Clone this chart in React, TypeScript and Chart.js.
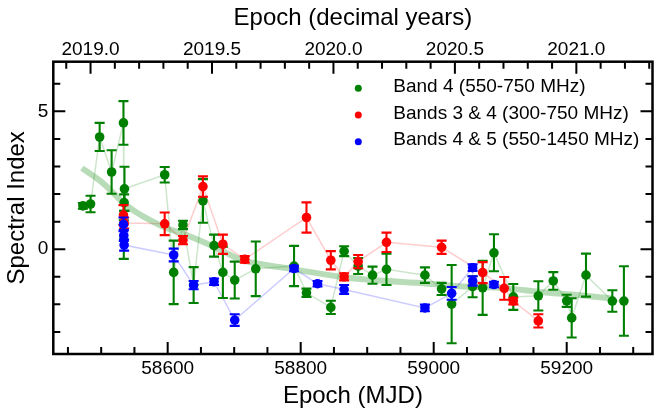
import { useEffect, useRef } from 'react';
import { Chart, registerables } from 'chart.js';

Chart.register(...registerables);

const FONT = "'Liberation Sans', Arial, sans-serif";

// Band 4 (550-750 MHz)
const band4Mjd = [
  58472.5, 58484, 58497.7, 58515.7, 58533.5, 58534, 58534.5, 58535, 58595.5, 58609,
  58623, 58639, 58653, 58669.7, 58683, 58700.8, 58732.4, 58790, 58808.7, 58845.3,
  58865.3, 58886.4, 58908, 58929, 58986.8, 59011.9, 59027, 59058.5, 59073.6, 59090.6,
  59119.7, 59157.3, 59179.8, 59200, 59207.5, 59229, 59268.6, 59286,
];
const band4Index = [
  1.57, 1.64, 4.07, 2.8, 4.58, 0.35, 1.69, 2.19, 2.7, -0.84,
  0.88, -1.3, 1.75, 0.13, -0.84, -1.12, -0.71, -0.61, -1.58, -2.11,
  -0.07, -0.61, -0.94, -0.73, -0.94, -1.44, -1.99, -1.36, -1.4, -0.13,
  -1.73, -1.69, -1.15, -1.87, -2.49, -0.94, -1.88, -1.88,
];
const band4Err = [
  0.1, 0.3, 0.51, 0.79, 0.79, 0.7, 0.3, 0.8, 0.28, 1.15,
  0.15, 0.65, 0.79, 0.4, 0.93, 0.67, 0.99, 0.73, 0.15, 0.24,
  0.18, 0.29, 0.31, 0.57, 0.28, 0.22, 1.42, 0.38, 0.98, 0.67,
  0.47, 0.53, 0.32, 0.22, 0.71, 0.78, 0.39, 1.26,
];

// Bands 3 & 4 (300-750 MHz)
const band34Mjd = [
  58533.5, 58534.5, 58595.5, 58623, 58653, 58683, 58715.9, 58808.7, 58845.3,
  58865.3, 58886.4, 58929, 59011.9, 59073.6, 59106, 59119.7, 59157.3,
];
const band34Index = [
  1.24, 0.95, 0.92, 0.33, 2.27, 0.18, -0.37, 1.15, -0.4,
  -1.0, -0.45, 0.25, 0.07, -0.85, -1.42, -1.88, -2.6,
];
const band34Err = [
  0.36, 0.2, 0.41, 0.15, 0.37, 0.35, 0.12, 0.55, 0.33,
  0.13, 0.24, 0.35, 0.24, 0.38, 0.41, 0.12, 0.24,
];

// Bands 4 & 5 (550-1450 MHz)
const band45Mjd = [
  58533.5, 58534, 58534.5, 58609, 58639, 58669.7, 58700.8, 58790, 58825.3,
  58865.3, 58986.8, 59027, 59058.5, 59058.6, 59090.6,
];
const band45Index = [
  0.9, 0.5, 0.15, -0.21, -1.3, -1.18, -2.57, -0.7, -1.25,
  -1.46, -2.13, -1.6, -0.67, -1.15, -1.28,
];
const band45Err = [
  0.25, 0.2, 0.2, 0.23, 0.15, 0.12, 0.21, 0.1, 0.1,
  0.16, 0.12, 0.23, 0.12, 0.17, 0.1,
];

// smooth trend (thick pale green curve)
const trendMjd = [
  58471, 58500, 58540, 58590, 58630, 58670, 58711, 58750, 58790,
  58859, 58909, 58987, 59039, 59109, 59159, 59220, 59270,
];
const trendIndex = [
  2.94, 2.45, 1.55, 0.85, 0.5, 0.09, -0.39, -0.58, -0.73,
  -1.0, -1.12, -1.24, -1.34, -1.42, -1.55, -1.67, -1.79,
];

const seriesLabels = ['Band 4 (550-750 MHz)', 'Bands 3 & 4 (300-750 MHz)', 'Bands 4 & 5 (550-1450 MHz)'];
const seriesColors = ['#008000', '#ff0000', '#0000ff'];
const lineColors = ['rgba(0,128,0,0.2)', 'rgba(255,0,0,0.2)', 'rgba(0,0,255,0.2)'];

const mjdTicks = [58600, 58800, 59000, 59200];
const yearTicks = [2019.0, 2019.5, 2020.0, 2020.5, 2021.0];
const indexTicks = [0, 5];

const MJD_MIN = 58428;
const MJD_MAX = 59329;
const Y_MIN = -3.8;
const Y_MAX = 6.8;
const toYear = (mjd: number) => 2019 + (mjd - 58484) / 365.25;

const pts = (xs: number[], ys: number[]) => xs.map((x, i) => ({ x, y: ys[i] }));

const decorPlugin = {
  id: 'decor',
  beforeDatasetDraw(chart: any, args: any) {
    const ds = chart.data.datasets[args.index];
    if (!ds.errors) return;
    const { ctx, chartArea, scales } = chart;
    ctx.save();
    ctx.beginPath();
    ctx.rect(chartArea.left, chartArea.top, chartArea.width, chartArea.height);
    ctx.clip();
    ctx.strokeStyle = ds.errorColor;
    ctx.lineWidth = 2.1;
    const cap = 5;
    ds.data.forEach((p: any, i: number) => {
      const x = scales.x.getPixelForValue(p.x);
      const lo = scales.y.getPixelForValue(p.y - ds.errors[i]);
      const hi = scales.y.getPixelForValue(p.y + ds.errors[i]);
      ctx.beginPath();
      ctx.moveTo(x, lo);
      ctx.lineTo(x, hi);
      ctx.moveTo(x - cap, lo);
      ctx.lineTo(x + cap, lo);
      ctx.moveTo(x - cap, hi);
      ctx.lineTo(x + cap, hi);
      ctx.stroke();
    });
    ctx.restore();
  },
  afterDraw(chart: any) {
    const { ctx, chartArea: a, scales } = chart;
    ctx.save();
    ctx.strokeStyle = '#000';
    ctx.lineWidth = 2.5;
    ctx.strokeRect(a.left, a.top, a.right - a.left, a.bottom - a.top);

    const MAJ = 12;
    const MIN = 7;
    ctx.lineWidth = 2;
    ctx.beginPath();
    // bottom: MJD
    for (let v = 58450; v <= MJD_MAX; v += 50) {
      const x = scales.x.getPixelForValue(v);
      const len = v % 200 === 0 ? MAJ : MIN;
      ctx.moveTo(x, a.bottom);
      ctx.lineTo(x, a.bottom - len);
    }
    // top: decimal year
    for (let k = 188; k <= 213; k++) {
      const yr = k / 10 + 2000;
      const px = scales.x2.getPixelForValue(yr);
      if (px < a.left || px > a.right) continue;
      const len = k % 5 === 0 ? MAJ : MIN;
      ctx.moveTo(px, a.top);
      ctx.lineTo(px, a.top + len);
    }
    // left & right: spectral index
    for (let v = -3; v <= 6; v++) {
      const y = scales.y.getPixelForValue(v);
      const len = v % 5 === 0 ? MAJ : MIN;
      ctx.moveTo(a.left, y);
      ctx.lineTo(a.left + len, y);
      ctx.moveTo(a.right, y);
      ctx.lineTo(a.right - len, y);
    }
    ctx.stroke();

    // legend
    ctx.font = `19px ${FONT}`;
    ctx.textBaseline = 'middle';
    ctx.textAlign = 'left';
    seriesLabels.forEach((label, i) => {
      const y = a.top + 26.6 + i * 26.7;
      ctx.fillStyle = seriesColors[i];
      ctx.beginPath();
      ctx.arc(a.left + 305, y, 3.5, 0, Math.PI * 2);
      ctx.fill();
      ctx.fillStyle = '#000';
      ctx.fillText(label, a.left + 340, y - 1.5);
    });
    ctx.restore();
  },
};

export default function App() {
  const canvasRef = useRef<HTMLCanvasElement>(null);
  const chartRef = useRef<Chart | null>(null);

  useEffect(() => {
    document.body.style.margin = '0';
    if (!canvasRef.current) return;
    if (chartRef.current) chartRef.current.destroy();

    const tickFont = { family: FONT, size: 19 };
    const titleFont = { family: FONT, size: 24 };

    const lineSet = (xs: number[], ys: number[], color: string, order: number) => ({
      data: pts(xs, ys),
      showLine: true,
      borderColor: color,
      borderWidth: 1.5,
      pointRadius: 0,
      order,
    });
    const markerSet = (xs: number[], ys: number[], errs: number[], color: string, order: number) => ({
      data: pts(xs, ys),
      showLine: false,
      pointRadius: 4.8,
      pointBackgroundColor: color,
      pointBorderWidth: 0,
      errors: errs,
      errorColor: color,
      order,
    });

    chartRef.current = new Chart(canvasRef.current, {
      type: 'scatter',
      data: {
        datasets: [
          lineSet(band4Mjd, band4Index, lineColors[0], 9),
          lineSet(band34Mjd, band34Index, lineColors[1], 8),
          lineSet(band45Mjd, band45Index, lineColors[2], 7),
          {
            data: pts(trendMjd, trendIndex),
            showLine: true,
            borderColor: 'rgba(0,128,0,0.28)',
            borderWidth: 6,
            pointRadius: 0,
            cubicInterpolationMode: 'monotone',
            order: 6,
          },
          markerSet(band4Mjd, band4Index, band4Err, seriesColors[0], 3),
          markerSet(band34Mjd, band34Index, band34Err, seriesColors[1], 2),
          markerSet(band45Mjd, band45Index, band45Err, seriesColors[2], 1),
        ] as any,
      },
      options: {
        animation: false,
        responsive: true,
        maintainAspectRatio: false,
        events: [],
        layout: { padding: { left: 0, right: 11.5, top: 0, bottom: 0 } },
        plugins: { legend: { display: false }, tooltip: { enabled: false } },
        scales: {
          x: {
            type: 'linear',
            position: 'bottom',
            min: MJD_MIN,
            max: MJD_MAX,
            afterBuildTicks: (s: any) => {
              s.ticks = mjdTicks.map((value) => ({ value }));
            },
            afterFit: (s: any) => {
              s.height = 61;
            },
            grid: { display: false, drawTicks: false },
            border: { display: false },
            ticks: {
              font: tickFont,
              color: '#000',
              padding: 3,
              maxRotation: 0,
              autoSkip: false,
              callback: (v: any) => String(v),
            },
            title: {
              display: true,
              text: 'Epoch (MJD)',
              font: titleFont,
              color: '#000',
              padding: { top: 0, bottom: 4.4 },
            },
          },
          x2: {
            type: 'linear',
            position: 'top',
            min: toYear(MJD_MIN),
            max: toYear(MJD_MAX),
            afterBuildTicks: (s: any) => {
              s.ticks = yearTicks.map((value) => ({ value }));
            },
            afterFit: (s: any) => {
              s.height = 61.7;
            },
            grid: { display: false, drawTicks: false },
            border: { display: false },
            ticks: {
              font: tickFont,
              color: '#000',
              padding: 1,
              maxRotation: 0,
              autoSkip: false,
              callback: (v: any) => Number(v).toFixed(1),
            },
            title: {
              display: true,
              text: 'Epoch (decimal years)',
              font: titleFont,
              color: '#000',
              padding: { top: 3.6, bottom: 0 },
            },
          },
          y: {
            type: 'linear',
            position: 'left',
            min: Y_MIN,
            max: Y_MAX,
            afterBuildTicks: (s: any) => {
              s.ticks = indexTicks.map((value) => ({ value }));
            },
            afterFit: (s: any) => {
              s.width = 53.3;
            },
            grid: { display: false, drawTicks: false },
            border: { display: false },
            ticks: { font: tickFont, color: '#000', padding: 5 },
            title: {
              display: true,
              text: 'Spectral Index',
              font: titleFont,
              color: '#000',
              padding: { top: 3, bottom: 0 },
            },
          },
        },
      } as any,
      plugins: [decorPlugin],
    });

    return () => {
      chartRef.current?.destroy();
      chartRef.current = null;
    };
  }, []);

  return (
    <div style={{ position: 'relative', width: 664, height: 415 }}>
      <canvas ref={canvasRef} />
    </div>
  );
}
